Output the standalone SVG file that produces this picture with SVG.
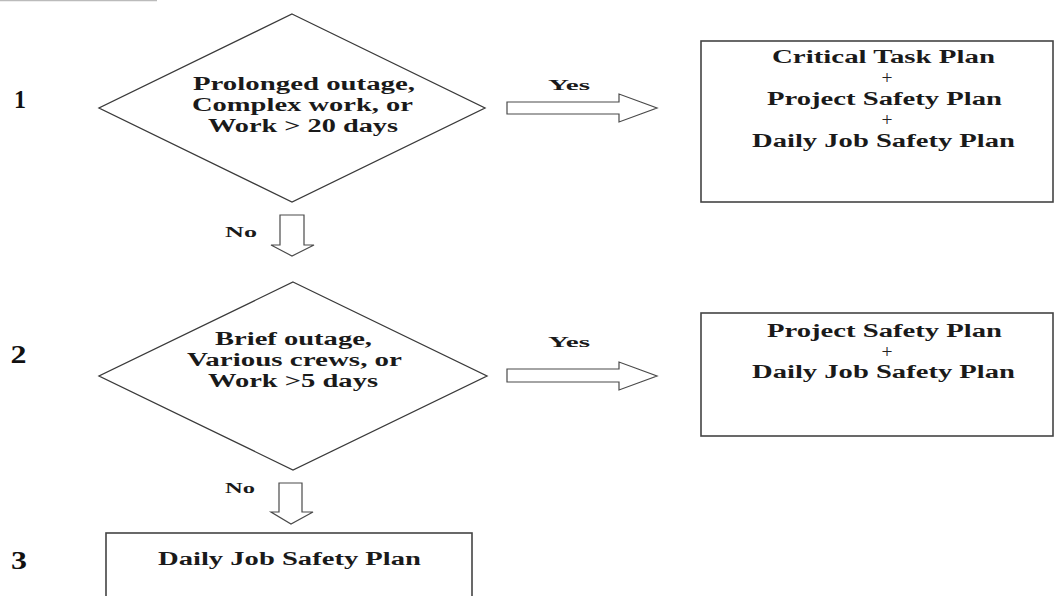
<svg xmlns="http://www.w3.org/2000/svg" width="1055" height="596" viewBox="0 0 1055 596">
<style>
.t{font-family:"Liberation Serif","Times New Roman",serif;font-weight:bold;font-size:18px;fill:#1a1a1a;text-anchor:middle}
.s{font-size:15px}
.n{font-size:26px;fill:#111}
.p{font-weight:normal;font-size:19px;fill:#222}
.shape{fill:#fff;stroke:#3a3a3a;stroke-width:1.3}
.box{fill:#fff;stroke:#444;stroke-width:1.6}
.arr{fill:#fff;stroke:#4a4a4a;stroke-width:1.2;stroke-linejoin:miter}
</style>
<rect width="1055" height="596" fill="#fff"/>
<line x1="0" y1="0.5" x2="157" y2="0.5" stroke="#bbb" stroke-width="1.5"/>
<g id="labels">
<text class="t n" x="20" y="108" textLength="12" lengthAdjust="spacingAndGlyphs">1</text>
<text class="t n" x="18.5" y="363" textLength="16" lengthAdjust="spacingAndGlyphs">2</text>
<text class="t n" x="19" y="569" textLength="16" lengthAdjust="spacingAndGlyphs">3</text>
</g>
<g id="decision1">
<polygon class="shape" points="292,14 485,108 292,202 99,108"/>
<text class="t" x="304" y="90" textLength="222" lengthAdjust="spacingAndGlyphs">Prolonged outage,</text>
<text class="t" x="302.5" y="111" textLength="221" lengthAdjust="spacingAndGlyphs">Complex work, or</text>
<text class="t" x="303" y="132" textLength="190" lengthAdjust="spacingAndGlyphs">Work &gt; 20 days</text>
</g>
<g id="result1">
<rect class="box" x="701" y="41" width="352" height="161"/>
<text class="t" x="883.5" y="63" textLength="223" lengthAdjust="spacingAndGlyphs">Critical Task Plan</text>
<text class="t p" x="887" y="84" textLength="11" lengthAdjust="spacingAndGlyphs">+</text>
<text class="t" x="884.5" y="105" textLength="235" lengthAdjust="spacingAndGlyphs">Project Safety Plan</text>
<text class="t p" x="887" y="126" textLength="11" lengthAdjust="spacingAndGlyphs">+</text>
<text class="t" x="883.5" y="147" textLength="263" lengthAdjust="spacingAndGlyphs">Daily Job Safety Plan</text>
</g>
<g id="decision2">
<polygon class="shape" points="293,282 487,376 293,470 99,376"/>
<text class="t" x="293.5" y="345" textLength="157" lengthAdjust="spacingAndGlyphs">Brief outage,</text>
<text class="t" x="294.5" y="366" textLength="215" lengthAdjust="spacingAndGlyphs">Various crews, or</text>
<text class="t" x="293" y="387" textLength="170" lengthAdjust="spacingAndGlyphs">Work &gt;5 days</text>
</g>
<g id="result2">
<rect class="box" x="701" y="313" width="352" height="123"/>
<text class="t" x="884.5" y="337" textLength="235" lengthAdjust="spacingAndGlyphs">Project Safety Plan</text>
<text class="t p" x="887" y="358" textLength="11" lengthAdjust="spacingAndGlyphs">+</text>
<text class="t" x="883.5" y="378" textLength="263" lengthAdjust="spacingAndGlyphs">Daily Job Safety Plan</text>
</g>
<g id="result3">
<rect class="box" x="106" y="533" width="366" height="80"/>
<text class="t" x="289.5" y="565" textLength="263" lengthAdjust="spacingAndGlyphs">Daily Job Safety Plan</text>
</g>
<g id="connectors">
<polygon class="arr" points="507,102 619,102 619,94 657,108 619,122 619,114 507,114"/>
<text class="t s" x="569" y="90" textLength="42" lengthAdjust="spacingAndGlyphs">Yes</text>
<polygon class="arr" points="507,369 619,369 619,362 657,376 619,390 619,382 507,382"/>
<text class="t s" x="569" y="347" textLength="42" lengthAdjust="spacingAndGlyphs">Yes</text>
<polygon class="arr" points="280,215 304,215 304,245 314,245 292,256 271,245 280,245"/>
<text class="t s" x="241" y="237" textLength="32" lengthAdjust="spacingAndGlyphs">No</text>
<polygon class="arr" points="279,483 302,483 302,512 313,512 291,524 271,512 279,512"/>
<text class="t s" x="240" y="493" textLength="30" lengthAdjust="spacingAndGlyphs">No</text>
</g>
</svg>
